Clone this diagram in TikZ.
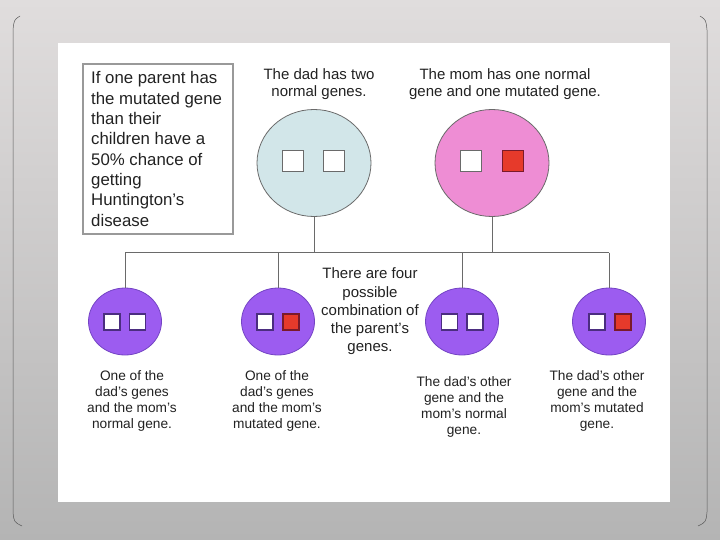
\documentclass[tikz,border=0pt]{standalone}
\usepackage{fontspec}
\setmainfont{Liberation Sans}
\usetikzlibrary{shapes.geometric}
\newcommand{\apos}{{\char"0027}}
\definecolor{bgtop}{HTML}{E0DDDD}
\definecolor{bgbot}{HTML}{B4B4B4}
\definecolor{dadfill}{HTML}{D2E6E9}
\definecolor{momfill}{HTML}{EE8DD4}
\definecolor{kidfill}{HTML}{9C5CF0}
\definecolor{kidline}{HTML}{7444C4}
\definecolor{kidsq}{HTML}{4B2D80}
\definecolor{genered}{HTML}{E63A2B}
\definecolor{redline}{HTML}{7A1A2A}
\definecolor{txt}{HTML}{222222}
\definecolor{wire}{HTML}{6A6A6A}
\begin{document}
\begin{tikzpicture}[x=1pt,y=-1pt,
  parent/.style={ellipse,draw=wire,line width=0.8pt,minimum width=114pt,minimum height=107pt,inner sep=0pt},
  kid/.style={ellipse,draw=kidline,fill=kidfill,line width=0.8pt,minimum width=73pt,minimum height=67pt,inner sep=0pt},
  bigsq/.style={rectangle,draw=wire,line width=1pt,minimum size=21pt,inner sep=0pt},
  smallsq/.style={rectangle,draw=kidsq,line width=1.2pt,minimum size=16pt,inner sep=0pt},
  normalgene/.style={fill=white},
  badgene/.style={fill=genered,draw=redline},
  lbl/.style={text=txt,align=center,inner sep=0pt,font=\fontsize{15}{17}\selectfont},
  kidlbl/.style={text=txt,align=center,inner sep=0pt,font=\fontsize{13.7}{16}\selectfont},
  wireline/.style={draw=wire,line width=0.9pt}]
\useasboundingbox (0,0) rectangle (720,540);
\shade[top color=bgtop,bottom color=bgbot] (0,0) rectangle (720,540);
% frame lines
\draw[gray!70!black,line width=0.5pt] (20,16) .. controls (14,20) .. (13,30) -- (13,512) .. controls (14,522) .. (22,526);
\draw[gray!70!black,line width=0.5pt] (700,16) .. controls (706,20) .. (707,30) -- (707,512) .. controls (706,522) .. (698,526);
% panel
\fill[white] (58,43) rectangle (670,502);
% info box
\node[draw=gray!80,line width=1.2pt,fill=white,minimum width=150pt,minimum height=170pt,inner sep=0pt] (infobox) at (158,149) {};
\node[text=txt,align=left,anchor=west,inner sep=0pt,font=\fontsize{16.8}{20.3}\selectfont] (info) at (91,149)
 {If one parent has\\the mutated gene\\than their\\children have a\\50\% chance of\\getting\\Huntington\apos s\\disease};
% parents
\node[parent,fill=dadfill] (dad) at (314,163) {};
\node[parent,fill=momfill] (mom) at (492,163) {};
\node[bigsq,normalgene] (dadA) at (293,161.5) {};
\node[bigsq,normalgene] (dadB) at (334,161.5) {};
\node[bigsq,normalgene] (momA) at (471,161.5) {};
\node[bigsq,badgene] (momB) at (513,161.5) {};
\node[lbl] (dadlbl) at (319,84.5) {The dad has two\\normal genes.};
\node[lbl] (momlbl) at (505,84.5) {The mom has one normal\\gene and one mutated gene.};
% children
\node[kid] (c1) at (125,321.5) {};
\node[kid] (c2) at (278,321.5) {};
\node[kid] (c3) at (462,321.5) {};
\node[kid] (c4) at (609,321.5) {};
\node[smallsq,normalgene] (c1a) at (112,322) {};
\node[smallsq,normalgene] (c1b) at (137.5,322) {};
\node[smallsq,normalgene] (c2a) at (265,322) {};
\node[smallsq,badgene] (c2b) at (291,322) {};
\node[smallsq,normalgene] (c3a) at (449.5,322) {};
\node[smallsq,normalgene] (c3b) at (475,322) {};
\node[smallsq,normalgene] (c4a) at (597,322) {};
\node[smallsq,badgene] (c4b) at (623,322) {};
% connectors
\coordinate (bar) at (0,252.5);
\draw[wireline] (dad.south) -- (dad.south |- bar);
\draw[wireline] (mom.south) -- (mom.south |- bar);
\draw[wireline] (c1.north |- bar) -- (c4.north |- bar);
\draw[wireline] (c1.north |- bar) -- (c1.north);
\draw[wireline] (c2.north |- bar) -- (c2.north);
\draw[wireline] (c3.north |- bar) -- (c3.north);
\draw[wireline] (c4.north |- bar) -- (c4.north);
% labels
\node[lbl,font=\fontsize{15}{18.25}\selectfont] (midlbl) at (370,311.5) {There are four\\possible\\combination of\\the parent\apos s\\genes.};
\node[kidlbl] (c1lbl) at (132,401) {One of the\\dad\apos s genes\\and the mom\apos s\\normal gene.};
\node[kidlbl] (c2lbl) at (277,401) {One of the\\dad\apos s genes\\and the mom\apos s\\mutated gene.};
\node[kidlbl] (c3lbl) at (464,406.5) {The dad\apos s other\\gene and the\\mom\apos s normal\\gene.};
\node[kidlbl] (c4lbl) at (597,401) {The dad\apos s other\\gene and the\\mom\apos s mutated\\gene.};
\end{tikzpicture}
\end{document}
